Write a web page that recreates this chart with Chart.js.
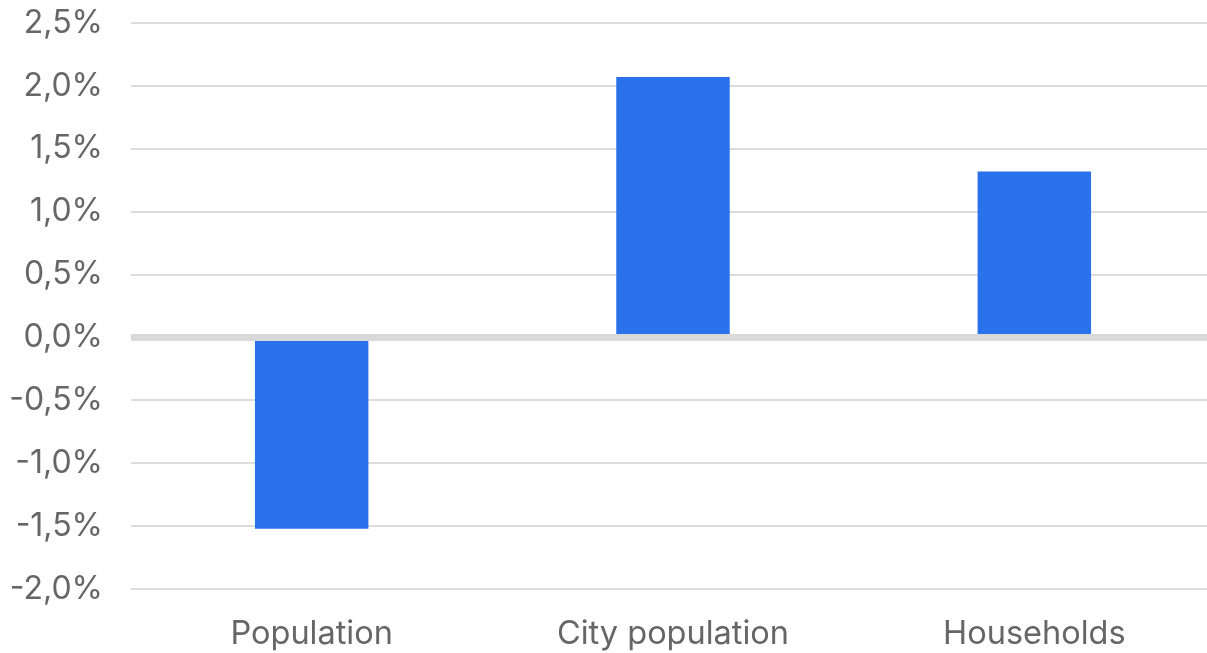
<!DOCTYPE html>
<html>
<head>
<meta charset="utf-8">
<script src="https://cdn.jsdelivr.net/npm/chart.js@4"></script>
<style>
  html, body { margin: 0; padding: 0; background: #fff; overflow: hidden; }
  #wrap { width: 1215px; height: 653px; }
</style>
</head>
<body>
<div id="wrap"><canvas id="chart" width="1215" height="653"></canvas></div>
<script>
const categories = ["Population", "City population", "Households"];
const changePct = [-1.52, 2.07, 1.32];
const yMin = -2.0;
const yMax = 2.5;
const yStep = 0.5;

// zero line sits on top of the bars, thicker than the other grid lines
const zeroLine = {
  id: "zeroLine",
  afterDatasetsDraw(chart) {
    const { ctx, chartArea, scales } = chart;
    const y = scales.y.getPixelForValue(0);
    ctx.save();
    ctx.strokeStyle = "#d9d9d9";
    ctx.lineWidth = 7;
    ctx.beginPath();
    ctx.moveTo(chartArea.left, y);
    ctx.lineTo(chartArea.right, y);
    ctx.stroke();
    ctx.restore();
  },
};

new Chart(document.getElementById("chart"), {
  type: "bar",
  data: {
    labels: categories,
    datasets: [{
      data: changePct,
      backgroundColor: "#2a72ec",
      borderWidth: 0,
      categoryPercentage: 1,
      barPercentage: 0.314,
    }],
  },
  options: {
    responsive: false,
    animation: false,
    layout: { padding: 0 },
    plugins: { legend: { display: false }, tooltip: { enabled: false } },
    scales: {
      x: {
        grid: { display: false, drawTicks: false },
        border: { display: false },
        ticks: { color: "#666", font: { family: "Inter", size: 32.5 }, padding: 26 },
        afterFit: (s) => { s.height = 64; },
      },
      y: {
        min: yMin,
        max: yMax,
        grid: { color: "#dcdcdc", lineWidth: 2, drawTicks: false },
        border: { display: false },
        ticks: {
          stepSize: yStep,
          color: "#666",
          font: { family: "Inter", size: 32 },
          padding: 28,
          callback: (v) => v.toFixed(1).replace(".", ",") + "%",
        },
        afterFit: (s) => {
          s.width = 131;
          s.paddingTop = 23;
          s.paddingBottom = 0;
        },
      },
    },
  },
  plugins: [zeroLine],
});
</script>
</body>
</html>
